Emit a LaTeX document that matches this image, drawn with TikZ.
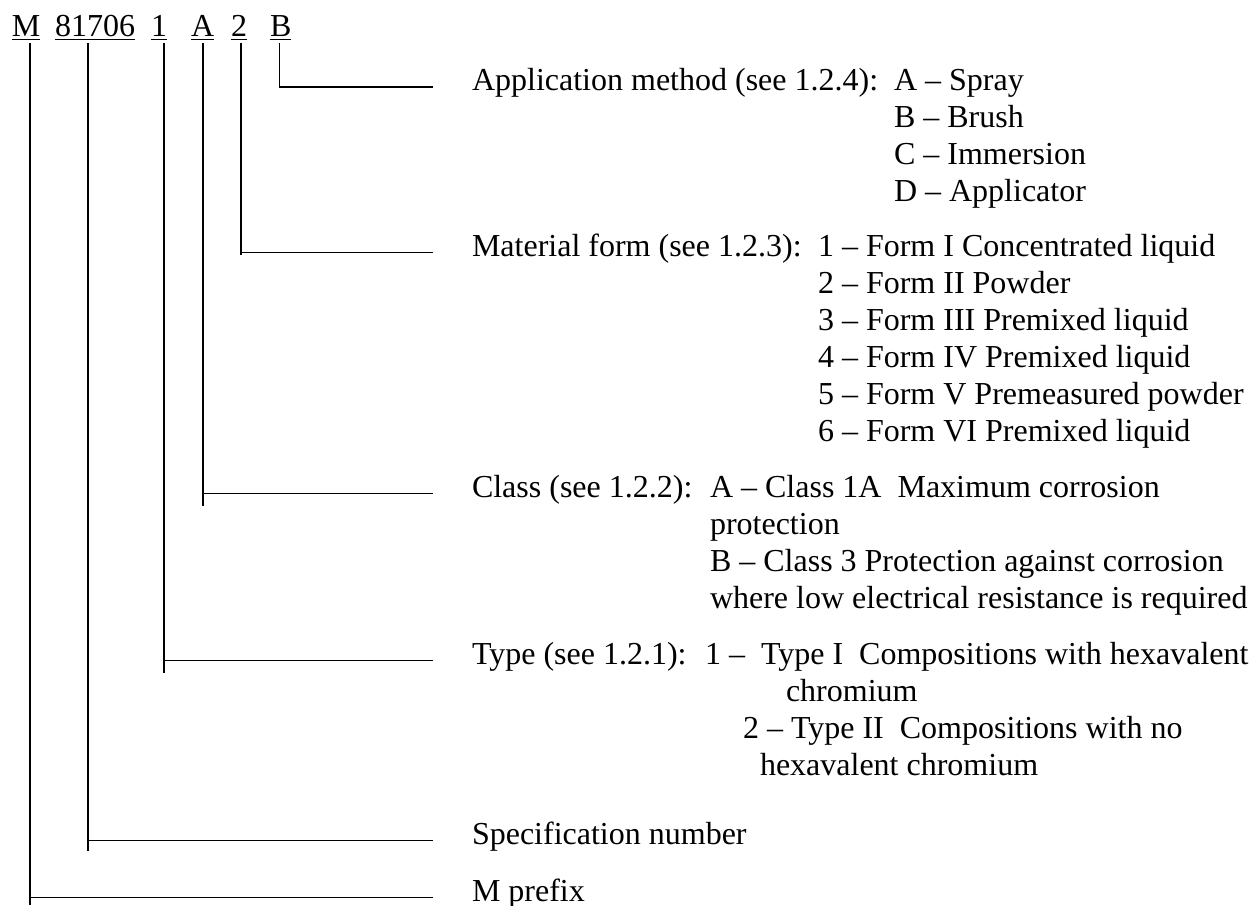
\documentclass[tikz,border=0pt]{standalone}
\usepackage{fontspec}
\setmainfont{Liberation Serif}
\begin{document}
\begin{tikzpicture}[x=0.375pt,y=-0.375pt,
  txt/.style={anchor=base west,inner sep=0pt,outer sep=0pt,font=\fontsize{12pt}{13.8pt}\selectfont},
  conn/.style={line width=0.6pt},
  uline/.style={line width=0.55pt}]
\fill[white] (0,0) rectangle (1256,905);
\useasboundingbox (0,0) rectangle (1256,905);
% top code labels
\node[txt] (lM) at (12,36) {M};
\node[txt] (l8) at (55,36) {81706};
\node[txt] (l1) at (151,36) {1};
\node[txt] (lA) at (191,36) {A};
\node[txt] (l2) at (231,36) {2};
\node[txt] (lB) at (270,36) {B};
\foreach \n in {lM,l8,l1,lA,l2,lB}
  \draw[uline] ([yshift=-1.3pt]\n.base west) -- ([yshift=-1.3pt]\n.base east);
% descriptions
\node[txt] (app) at (472,90) {Application method (see 1.2.4):};
\node[txt] (appA) at (894,90) {A – Spray};
\node[txt] (appB) at (894,127) {B – Brush};
\node[txt] (appC) at (894,164) {C – Immersion};
\node[txt] (appD) at (894,201) {D – Applicator};
\node[txt] (mat) at (472,256) {Material form (see 1.2.3):};
\node[txt] (mat1) at (818,256) {1 – Form I Concentrated liquid};
\node[txt] (mat2) at (818,293) {2 – Form II Powder};
\node[txt] (mat3) at (818,330) {3 – Form III Premixed liquid};
\node[txt] (mat4) at (818,367) {4 – Form IV Premixed liquid};
\node[txt] (mat5) at (818,404) {5 – Form V Premeasured powder};
\node[txt] (mat6) at (818,441) {6 – Form VI Premixed liquid};
\node[txt] (cls) at (472,497) {Class (see 1.2.2):};
\node[txt] (clsA) at (710,497) {A – Class 1A\ \ Maximum corrosion};
\node[txt] (clsA2) at (710,534) {protection};
\node[txt] (clsB) at (710,571) {B – Class 3 Protection against corrosion};
\node[txt] (clsB2) at (710,608) {where low electrical resistance is required};
\node[txt] (typ) at (472,664) {Type (see 1.2.1):};
\node[txt] (typ1) at (705,664) {1 –\ \ Type I\ \ Compositions with hexavalent};
\node[txt] (typ1b) at (786,701) {chromium};
\node[txt] (typ2) at (743,738) {2 – Type II\ \ Compositions with no};
\node[txt] (typ2b) at (760,775) {hexavalent chromium};
\node[txt] (spec) at (472,844) {Specification number};
\node[txt] (mpre) at (472,901) {M prefix};
% connector coordinates
\coordinate (tM) at (30,43);   \coordinate (cM) at (30,897.5);  \coordinate (bM) at (30,905);  \coordinate (eM) at (433,897.5);
\coordinate (t8) at (88,43);   \coordinate (c8) at (88,840.5);  \coordinate (b8) at (88,851);  \coordinate (e8) at (433,840.5);
\coordinate (t1) at (164,43);  \coordinate (c1) at (164,660.5); \coordinate (b1) at (164,673); \coordinate (e1) at (433,660.5);
\coordinate (tA) at (203,43);  \coordinate (cA) at (203,493.5); \coordinate (bA) at (203,506); \coordinate (eA) at (433,493.5);
\coordinate (t2) at (241,43);  \coordinate (c2) at (241,252.5); \coordinate (b2) at (241,255); \coordinate (e2) at (433,252.5);
\coordinate (tB) at (279.5,43);\coordinate (cB) at (279.5,87);  \coordinate (eB) at (433,87);
\draw[conn] (tM) -- (bM); \draw[conn] (cM) -- (eM);
\draw[conn] (t8) -- (b8); \draw[conn] (c8) -- (e8);
\draw[conn] (t1) -- (b1); \draw[conn] (c1) -- (e1);
\draw[conn] (tA) -- (bA); \draw[conn] (cA) -- (eA);
\draw[conn] (t2) -- (b2); \draw[conn] (c2) -- (e2);
\draw[conn] (tB) -- (cB) -- (eB);
\end{tikzpicture}
\end{document}
